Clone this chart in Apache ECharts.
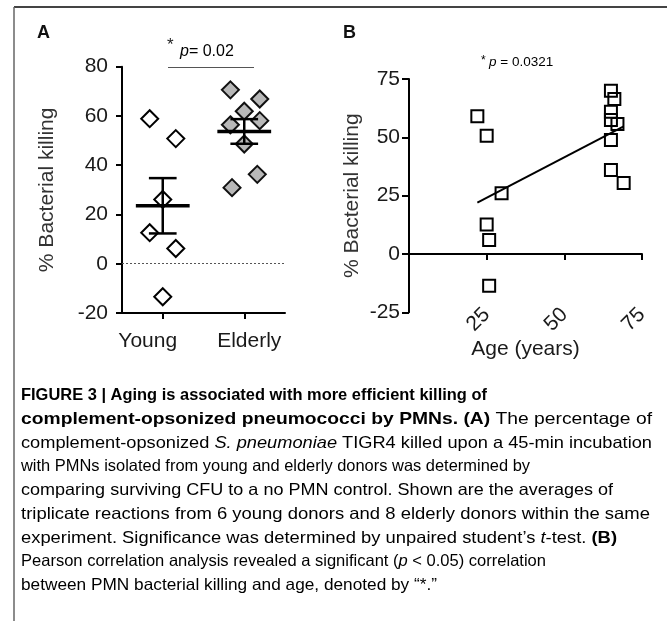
<!DOCTYPE html>
<html>
<head>
<meta charset="utf-8">
<script src="https://cdn.jsdelivr.net/npm/echarts@6/dist/echarts.min.js"></script>
<style>
html,body{margin:0;padding:0;background:#fff;}
#chart{width:667px;height:621px;}
</style>
</head>
<body>
<div id="chart"></div>
<script>
// ---- Panel A data ----
const groupNames = ['Young', 'Elderly'];
const youngKilling = [58.9, 50.8, 26.1, 12.6, 6.2, -13.4];
const youngOffset = [-0.16, 0.16, 0, -0.16, 0.16, 0];
const elderlyKilling = [70.6, 66.9, 61.9, 56.4, 58.1, 48.6, 36.3, 30.9];
const elderlyOffset = [-0.17, 0.19, 0, -0.17, 0.19, 0, 0.16, -0.15];
const yTicksA = [-20, 0, 20, 40, 60, 80];

// ---- Panel B data ----
const youngAge = [22.0, 25.0, 29.8, 25.0, 25.8, 25.8];
const youngKillingB = [59.0, 50.7, 26.0, 12.6, 6.0, -13.6];
const elderlyAge = [65.0, 66.1, 65.0, 65.0, 67.1, 65.0, 65.0, 69.1];
const elderlyKillingB = [70.0, 66.4, 61.0, 57.4, 55.7, 48.9, 36.0, 30.4];
const ageTicks = [25, 50, 75];
const yTicksB = [-25, 0, 25, 50, 75];

const pTextA = '0.02';
const pTextB = '0.0321';

// ---- caption text (segments: [style, text]) ----
const captionLines = [
  [['b', 'FIGURE 3 | Aging is associated with more efficient killing of']],
  [['b', 'complement-opsonized pneumococci by PMNs. (A)'], ['r', ' The percentage of']],
  [['r', 'complement-opsonized '], ['i', 'S. pneumoniae'], ['r', ' TIGR4 killed upon a 45-min incubation']],
  [['r', 'with PMNs isolated from young and elderly donors was determined by']],
  [['r', 'comparing surviving CFU to a no PMN control. Shown are the averages of']],
  [['r', 'triplicate reactions from 6 young donors and 8 elderly donors within the same']],
  [['r', 'experiment. Significance was determined by unpaired student\u2019s '], ['i', 't'], ['r', '-test. '], ['b', '(B)']],
  [['r', 'Pearson correlation analysis revealed a significant ('], ['i', 'p'], ['r', ' < 0.05) correlation']],
  [['r', 'between PMN bacterial killing and age, denoted by \u201c*.\u201d']]
];
// right end of each caption line in the picture (layout)
const captionRight = [487, 652, 652, 530, 613, 650, 617, 546, 437];

// ---- derived ----
function meanSem(a) {
  const n = a.length;
  const m = a.reduce((s, v) => s + v, 0) / n;
  const sd = Math.sqrt(a.reduce((s, v) => s + (v - m) * (v - m), 0) / (n - 1));
  return [m, sd / Math.sqrt(n)];
}
const msY = meanSem(youngKilling);
const msE = meanSem(elderlyKilling);
const errData = [
  [1, msY[0], msY[0] - msY[1], msY[0] + msY[1]],
  [2, msE[0], msE[0] - msE[1], msE[0] + msE[1]]
];
const allX = youngAge.concat(elderlyAge);
const allY = youngKillingB.concat(elderlyKillingB);
const mx = allX.reduce((s, v) => s + v, 0) / allX.length;
const my = allY.reduce((s, v) => s + v, 0) / allY.length;
let sxy = 0, sxx = 0;
allX.forEach((x, i) => { sxy += (x - mx) * (allY[i] - my); sxx += (x - mx) * (x - mx); });
const slope = sxy / sxx, icpt = my - slope * mx;
const xMin = Math.min(...allX), xMax = Math.max(...allX);
const regLine = [[xMin, icpt + slope * xMin], [xMax, icpt + slope * xMax]];

const FONT = 'Liberation Sans, Arial, sans-serif';
const axisLine = { show: true, onZero: false, lineStyle: { color: '#000', width: 2 } };
const axisTick = { show: true, length: 6, lineStyle: { color: '#000', width: 2 } };
const lbl = { color: '#1a1a1a', fontSize: 21, fontFamily: FONT };

const chart = echarts.init(document.getElementById('chart'), null, { renderer: 'canvas' });

const CAP_SIZE = 16.5;
const capStyles = {
  r: { fontFamily: FONT, fontSize: CAP_SIZE, color: '#3a3a3a', fontStyle: 'normal', fontWeight: 'normal' },
  b: { fontFamily: FONT, fontSize: CAP_SIZE, color: '#1a1a1a', fontStyle: 'normal', fontWeight: 'bold' },
  i: { fontFamily: FONT, fontSize: CAP_SIZE, color: '#3a3a3a', fontStyle: 'italic', fontWeight: 'normal' }
};
const mctx = document.createElement('canvas').getContext('2d');
function segWidth(seg) {
  const s = capStyles[seg[0]];
  mctx.font = s.fontStyle + ' ' + s.fontWeight + ' ' + s.fontSize + 'px ' + s.fontFamily;
  return mctx.measureText(seg[1]).width;
}
const CAP_LEFT = 21;
const captionGraphics = captionLines.map((segs, i) => {
  const w = segs.reduce((s, g) => s + segWidth(g), 0);
  const sx = (captionRight[i] - CAP_LEFT) / w;
  return {
    type: 'text', x: CAP_LEFT, y: 387 + i * 23.75, scaleX: sx,
    style: {
      text: segs.map(g => '{' + g[0] + '|' + g[1] + '}').join(''),
      rich: capStyles, verticalAlign: 'top', align: 'left'
    }
  };
});

const option = {
  animation: false,
  backgroundColor: '#fff',
  textStyle: { fontFamily: FONT },
  grid: [
    { left: 122, top: 66.7, width: 163, height: 246.3 },
    { left: 409, top: 79, width: 233, height: 233.3 }
  ],
  xAxis: [
    {
      gridIndex: 0, type: 'value', min: 0.5, max: 2.5, interval: 0.5,
      axisLine: axisLine,
      axisTick: Object.assign({}, axisTick, { customValues: [1, 2] }),
      axisLabel: Object.assign({}, lbl, {
        customValues: [1, 2], margin: 18,
        formatter: v => v === 1 ? '{y|' + groupNames[0] + '}' : '{e|' + groupNames[1] + '}',
        rich: {
          y: Object.assign({}, lbl, { padding: [0, 30, 0, 0] }),
          e: Object.assign({}, lbl, { padding: [0, 0, 0, 10] })
        }
      }),
      splitLine: { show: false }
    },
    {
      gridIndex: 1, type: 'value', min: 0, max: 75, interval: 25, position: 'bottom',
      axisLine: { show: false, onZero: false },
      axisTick: { show: false },
      axisLabel: Object.assign({}, lbl, { customValues: ageTicks, rotate: 45, margin: -1 }),
      splitLine: { show: false },
      name: 'Age (years)', nameLocation: 'middle', nameGap: 10,
      nameTextStyle: Object.assign({}, lbl)
    },
    {
      gridIndex: 1, type: 'value', min: 0, max: 75, interval: 25, position: 'bottom',
      axisLine: { show: true, onZero: true, lineStyle: { color: '#000', width: 2 } },
      axisTick: Object.assign({}, axisTick, { customValues: ageTicks }),
      axisLabel: { show: false },
      splitLine: { show: false }
    }
  ],
  yAxis: [
    {
      gridIndex: 0, type: 'value', min: -20, max: 80, interval: 20,
      axisLine: axisLine, axisTick: axisTick,
      axisLabel: Object.assign({}, lbl, { margin: 14 }),
      splitLine: { show: false },
      name: '% Bacterial killing', nameLocation: 'middle', nameGap: 64,
      nameTextStyle: Object.assign({}, lbl, { color: '#333' })
    },
    {
      gridIndex: 1, type: 'value', min: -25, max: 75, interval: 25,
      axisLine: axisLine, axisTick: Object.assign({}, axisTick, { length: 7 }),
      axisLabel: Object.assign({}, lbl, { margin: 9 }),
      splitLine: { show: false },
      name: '% Bacterial killing', nameLocation: 'middle', nameGap: 46,
      nameTextStyle: Object.assign({}, lbl, { color: '#333' })
    }
  ],
  series: [
    {
      type: 'scatter', xAxisIndex: 0, yAxisIndex: 0, z: 3,
      symbol: 'diamond', symbolSize: 17,
      itemStyle: { color: '#fff', borderColor: '#000', borderWidth: 2, opacity: 1 },
      data: youngKilling.map((v, i) => [1 + youngOffset[i], v]),
      markLine: {
        silent: true, symbol: 'none', label: { show: false },
        lineStyle: { color: '#555', type: [2, 2], width: 1 },
        data: [{ yAxis: 0 }]
      }
    },
    {
      type: 'scatter', xAxisIndex: 0, yAxisIndex: 0, z: 3,
      symbol: 'diamond', symbolSize: 17,
      itemStyle: { color: '#b8b8b8', borderColor: '#111', borderWidth: 2, opacity: 1 },
      data: elderlyKilling.map((v, i) => [2 + elderlyOffset[i], v])
    },
    {
      type: 'custom', xAxisIndex: 0, yAxisIndex: 0, z: 5,
      data: errData,
      renderItem: function (params, api) {
        const x = api.value(0), m = api.value(1), lo = api.value(2), hi = api.value(3);
        const p = (a, b) => api.coord([a, b]);
        const seg = (a, b, w) => ({ type: 'line', shape: { x1: a[0], y1: a[1], x2: b[0], y2: b[1] }, style: { stroke: '#000', lineWidth: w } });
        return {
          type: 'group', children: [
            seg(p(x - 0.33, m), p(x + 0.33, m), 3.5),
            seg(p(x, lo), p(x, hi), 2.5),
            seg(p(x - 0.17, lo), p(x + 0.17, lo), 2.5),
            seg(p(x - 0.17, hi), p(x + 0.17, hi), 2.5)
          ]
        };
      }
    },
    {
      type: 'scatter', xAxisIndex: 1, yAxisIndex: 1, z: 3,
      symbol: 'rect', symbolSize: 12,
      itemStyle: { color: 'rgba(255,255,255,0)', borderColor: '#000', borderWidth: 2, opacity: 1 },
      data: youngAge.map((a, i) => [a, youngKillingB[i]])
    },
    {
      type: 'scatter', xAxisIndex: 1, yAxisIndex: 1, z: 3,
      symbol: 'rect', symbolSize: 12,
      itemStyle: { color: 'rgba(255,255,255,0)', borderColor: '#000', borderWidth: 2, opacity: 1 },
      data: elderlyAge.map((a, i) => [a, elderlyKillingB[i]])
    },
    {
      type: 'line', xAxisIndex: 1, yAxisIndex: 1, z: 4,
      symbol: 'none', lineStyle: { color: '#000', width: 2 },
      data: regLine
    }
  ],
  graphic: [
    { type: 'line', shape: { x1: 14, y1: 7, x2: 667, y2: 7 }, style: { stroke: '#444', lineWidth: 2 } },
    { type: 'line', shape: { x1: 14, y1: 7, x2: 14, y2: 621 }, style: { stroke: '#666', lineWidth: 1.5 } },
    { type: 'text', left: 37, top: 24, style: { text: 'A', fontFamily: FONT, fontSize: 18, fontWeight: 'bold', fill: '#111' } },
    { type: 'text', left: 343, top: 24, style: { text: 'B', fontFamily: FONT, fontSize: 18, fontWeight: 'bold', fill: '#111' } },
    { type: 'text', left: 167, top: 37, style: { text: '*', fontFamily: FONT, fontSize: 17, fill: '#222' } },
    { type: 'text', left: 180, top: 44, style: { text: '{i|p}{r|= ' + pTextA + '}', rich: { i: { fontFamily: FONT, fontSize: 16, fontStyle: 'italic', color: '#222' }, r: { fontFamily: FONT, fontSize: 16, color: '#222' } } } },
    { type: 'line', shape: { x1: 168, y1: 67.5, x2: 254, y2: 67.5 }, style: { stroke: '#555', lineWidth: 1 } },
    { type: 'text', left: 481, top: 55, style: { text: '{s|*} {i|p}{r| = ' + pTextB + '}', rich: { s: { fontFamily: FONT, fontSize: 12, color: '#222', verticalAlign: 'top' }, i: { fontFamily: FONT, fontSize: 13.5, fontStyle: 'italic', color: '#222' }, r: { fontFamily: FONT, fontSize: 13.5, color: '#222' } } } }
  ].concat(captionGraphics)
};
chart.setOption(option);
</script>
</body>
</html>
